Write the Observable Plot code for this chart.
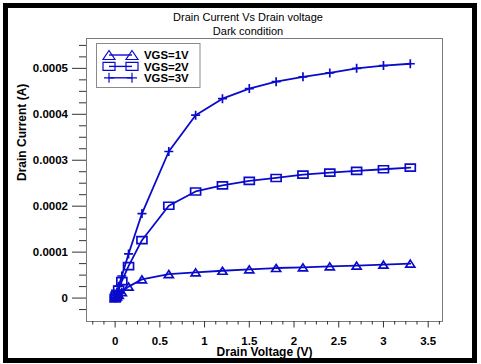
<!DOCTYPE html>
<html><head><meta charset="utf-8">
<script src="https://cdn.jsdelivr.net/npm/d3@7"></script>
<script src="https://cdn.jsdelivr.net/npm/@observablehq/plot@0.6"></script>
<style>
html,body{margin:0;padding:0;background:#fff;}
#wrap{position:relative;width:481px;height:364px;overflow:hidden;font-family:"Liberation Sans",Arial,sans-serif;}
#border{position:absolute;left:3px;top:3px;width:464px;height:350px;border:5px solid #000;}
.ttl{position:absolute;left:248px;transform:translateX(-50%);white-space:nowrap;font-size:11px;line-height:14px;color:#000;}
#chart{position:absolute;left:0;top:0;}
#legend{position:absolute;left:0;top:0;pointer-events:none;}
</style>
</head><body>
<div id="wrap">
  <div id="border"></div>
  <div class="ttl" style="top:9.5px">Drain Current Vs Drain voltage</div>
  <div class="ttl" style="top:23.5px">Dark condition</div>
  <div id="chart"></div>
  <svg id="legend" width="481" height="364"></svg>
</div>
<script>
// Drain voltage sweep points (V)
const vd = [0, 0.01, 0.02, 0.04, 0.075, 0.15, 0.3, 0.6, 0.9, 1.2, 1.5, 1.8, 2.1, 2.4, 2.7, 3.0, 3.3];
// Drain currents (A)
const idVgs1 = [0, 0.018e-4, 0.036e-4, 0.07e-4, 0.13e-4, 0.25e-4, 0.407e-4, 0.523e-4, 0.56e-4, 0.595e-4, 0.625e-4, 0.654e-4, 0.669e-4, 0.69e-4, 0.706e-4, 0.727e-4, 0.749e-4];
const idVgs2 = [0, 0.047e-4, 0.093e-4, 0.185e-4, 0.37e-4, 0.697e-4, 1.26e-4, 2.01e-4, 2.32e-4, 2.455e-4, 2.55e-4, 2.614e-4, 2.688e-4, 2.732e-4, 2.767e-4, 2.804e-4, 2.84e-4];
const idVgs3 = [0, 0.065e-4, 0.13e-4, 0.26e-4, 0.48e-4, 0.96e-4, 1.84e-4, 3.19e-4, 3.98e-4, 4.34e-4, 4.56e-4, 4.71e-4, 4.815e-4, 4.90e-4, 5.0e-4, 5.06e-4, 5.10e-4];
const seriesNames = ["VGS=1V", "VGS=2V", "VGS=3V"];

const xTicks = [0, 0.5, 1, 1.5, 2, 2.5, 3, 3.5];
const xTickLabels = ["0", "0.5", "1", "1.5", "2", "2.5", "3", "3.5"];
const xMinor = [-0.25, -0.125, 0.125, 0.25, 0.375, 0.625, 0.75, 0.875, 1.125, 1.25, 1.375, 1.625, 1.75, 1.875, 2.125, 2.25, 2.375, 2.625, 2.75, 2.875, 3.125, 3.25, 3.375, 3.625];
const yTicks = [0, 0.0001, 0.0002, 0.0003, 0.0004, 0.0005];
const yTickLabels = ["0", "0.0001", "0.0002", "0.0003", "0.0004", "0.0005"];
const yMinor = [-0.000025, 0.000025, 0.00005, 0.000075, 0.000125, 0.00015, 0.000175, 0.000225, 0.00025, 0.000275, 0.000325, 0.00035, 0.000375, 0.000425, 0.00045, 0.000475, 0.000525, 0.00055];

const blue = "#0a0acc";
const font = '"Liberation Sans", Arial, sans-serif';

function triSym(w, h) { return {draw(c) { c.moveTo(0, -h / 2); c.lineTo(w / 2, h / 2); c.lineTo(-w / 2, h / 2); c.closePath(); }}; }
function rectSym(w, h) { return {draw(c) { c.moveTo(-w / 2, -h / 2); c.lineTo(w / 2, -h / 2); c.lineTo(w / 2, h / 2); c.lineTo(-w / 2, h / 2); c.closePath(); }}; }
function plusSym(w, h) { return {draw(c) { c.moveTo(-w / 2, 0); c.lineTo(w / 2, 0); c.moveTo(0, -h / 2); c.lineTo(0, h / 2); }}; }

const symbols = [triSym(9, 7), rectSym(10, 7), plusSym(9, 9)];
const currents = [idVgs1, idVgs2, idVgs3];
const data = seriesNames.flatMap((s, k) => vd.map((v, i) => ({s, k, v, i: currents[k][i]})));

const chart = Plot.plot({
  width: 481, height: 364,
  marginLeft: 86, marginRight: 39, marginTop: 38, marginBottom: 43,
  style: {fontFamily: font, background: "transparent", overflow: "visible", color: "#000"},
  x: {domain: [-0.32, 3.66], label: null},
  y: {domain: [-0.000051, 0.000565], label: null},
  marks: [
    Plot.frame({stroke: "#7a7a7a"}),
    Plot.axisX({ticks: xMinor, tickSize: 3.5, text: null, stroke: "#333", label: null}),
    Plot.axisX({ticks: xTicks, tickSize: 6.5, tickPadding: 8.5, tickFormat: d => xTickLabels[xTicks.indexOf(d)], stroke: "#333", fill: "#000", fontWeight: "bold", fontSize: 11.5, label: null}),
    Plot.axisY({ticks: yMinor, tickSize: 7, text: null, stroke: "#333", label: null}),
    Plot.axisY({ticks: yTicks, tickSize: 14, tickPadding: 4.5, tickFormat: d => yTickLabels[yTicks.indexOf(d)], stroke: "#333", fill: "#000", fontWeight: "bold", fontSize: 11.5, label: null}),
    Plot.text(["Drain Voltage (V)"], {frameAnchor: "bottom", dy: 31, lineAnchor: "middle", fontWeight: "bold", fontSize: 12, fill: "#000"}),
    Plot.text(["Drain Current (A)"], {frameAnchor: "left", dx: -64, dy: 1, rotate: -90, fontWeight: "bold", fontSize: 12, fill: "#000"}),
    Plot.line(data, {x: "v", y: "i", z: "s", stroke: blue, strokeWidth: 1.8}),
    ...symbols.map((sym, k) => Plot.dot(data.filter(d => d.k === k), {x: "v", y: "i", symbol: sym, r: 3, stroke: blue, strokeWidth: 1.7, fill: "none"}))
  ]
});
document.getElementById("chart").appendChild(chart);

// Legend
const lg = d3.select("#legend");
lg.append("rect").attr("x", 96.5).attr("y", 43.5).attr("width", 103.5).attr("height", 44)
  .attr("fill", "#fff").attr("stroke", "#8a8a8a").attr("stroke-width", 1);
const legendSyms = [triSym(12, 9), rectSym(12, 8), plusSym(10, 10)];
seriesNames.forEach((name, k) => {
  const cy = 55 + k * 11.4;
  const g = lg.append("g");
  g.append("line").attr("x1", 109).attr("x2", 132).attr("y1", cy).attr("y2", cy)
    .attr("stroke", blue).attr("stroke-width", 1.4);
  [109, 132].forEach(cx => {
    const p = d3.path();
    legendSyms[k].draw(p);
    g.append("path").attr("d", p.toString()).attr("transform", `translate(${cx},${cy})`)
      .attr("fill", "none").attr("stroke", blue).attr("stroke-width", 1.2);
  });
  g.append("text").attr("x", 144).attr("y", cy + 4.2).attr("font-family", font)
    .attr("font-size", 11.4).attr("font-weight", "bold").attr("fill", "#000").text(name);
});
</script>
</body></html>
